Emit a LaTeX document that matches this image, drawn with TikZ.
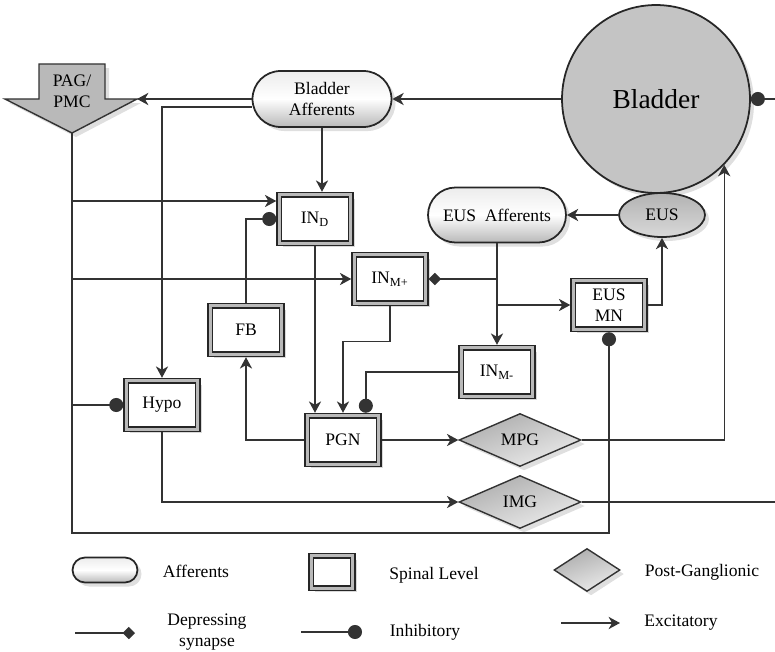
\documentclass[tikz,border=0pt]{standalone}
\usepackage{fontspec}
\setmainfont{Liberation Serif}
\usetikzlibrary{arrows.meta,shapes.geometric,shapes.misc,shadows}

\begin{document}
\begin{tikzpicture}[x=0.02cm,y=-0.02cm,font=\fontsize{10}{12}\selectfont,line width=0.75pt,draw=black!80,
  exc/.style={-{Stealth[length=6.5pt,width=7pt,inset=2pt]}},
  inh/.style={-{Circle[length=8pt]}},
  dep/.style={-{Turned Square[length=7pt,width=7pt]}},
  aff/.style={rounded rectangle,draw=black!85,line width=1pt,top color=gray!15,bottom color=gray!55,middle color=white,drop shadow={opacity=0.25},align=center,inner sep=0pt},
  spinal/.style={draw=black!85,line width=0.8pt,double=gray!55,double distance=1.8pt,fill=white,drop shadow={opacity=0.3},minimum width=1.43cm,minimum height=0.97cm,inner sep=0pt,outer sep=1.7pt,align=center},
  gang/.style={diamond,draw=black!80,line width=0.8pt,top color=gray!65,bottom color=gray!15,shading angle=20,minimum width=2.44cm,minimum height=1.06cm,inner sep=0pt,drop shadow={opacity=0.25}}]
\useasboundingbox (0,0) rectangle (775,652);
\node[circle,draw=black!85,line width=1pt,fill=gray!46,minimum size=3.76cm,drop shadow={opacity=0.25},font=\fontsize{15.6}{18}\selectfont] (bladder) at (656,99) {Bladder};
\node[aff,minimum width=2.78cm,minimum height=1.12cm] (baff) at (322,99) {Bladder\\Afferents};
\node[ellipse,draw=black!85,line width=1pt,top color=gray!60,bottom color=gray!30,minimum width=1.72cm,minimum height=0.88cm,inner sep=0pt,drop shadow={opacity=0.25}] (eus) at (662,215) {EUS};
\node[aff,minimum width=2.76cm,minimum height=1.1cm] (eusaff) at (497,215) {EUS\ \ Afferents};
\node[spinal] (ind) at (315,219) {IN\textsubscript{D}};
\node[spinal] (inmp) at (390,279) {IN\textsubscript{M+}};
\node[spinal] (eusmn) at (609,305) {EUS\\MN};
\node[spinal] (fb) at (246,330) {FB};
\node[spinal] (inmm) at (497,372) {IN\textsubscript{M-}};
\node[spinal] (hypo) at (162,405) {Hypo};
\node[spinal] (pgn) at (343,440) {PGN};
\node[gang] (mpg) at (520,440) {MPG};
\node[gang] (img) at (520,502) {IMG};
\coordinate (pagtip) at (72,133);
\coordinate (pagR) at (137,99);
\filldraw[draw=black!80,line width=0.8pt,fill=gray!55,drop shadow={opacity=0.25}] (39,64) -- (105,64) -- (105,99) -- (pagR) -- (pagtip) -- (5,99) -- (39,99) -- cycle;
\node[align=center] (pag) at (72,91) {PAG/\\PMC};
\coordinate (bot) at (72,533);
\coordinate (rightin) at (775,99);
\coordinate (rightout) at (775,502);
\draw[exc] (bladder.west) -- (baff.east);
\draw[exc] (baff.west) -- (pagR);
\draw[exc] ([yshift=-4.5pt]baff.west) -| (hypo.north);
\draw[exc] (baff.south) -- (baff.south |- ind.north);
\draw[inh] (pagtip) |- (bot) -| (eusmn.south);
\draw[exc] (pagtip |- 0,201) -- (ind.west |- 0,201);
\draw[exc] (pagtip |- inmp.west) -- (inmp.west);
\draw[inh] (pagtip |- hypo.west) -- (hypo.west);
\draw[inh] (fb.north) |- (ind.west);
\draw[exc] (ind.south) -- (ind.south |- pgn.north);
\draw[exc] (inmp.south) -- ++(0,35) -| (pgn.north);
\draw[inh] (inmm.west) -| ([xshift=13pt]pgn.north);
\draw[exc] (pgn.west) -| (fb.south);
\draw[exc] (pgn.east) -- (mpg.west);
\draw[exc] (mpg.east) -| (bladder.-44);
\draw[exc] (eusaff.south) -- (inmm.north);
\draw[dep] (eusaff.south |- inmp.east) -- (inmp.east);
\draw[exc] (eusaff.south |- eusmn.west) -- (eusmn.west);
\draw[exc] (eusmn.east) -| (eus.south);
\draw[exc] (eus.west) -- (eusaff.east);
\draw[inh] (rightin) -- (bladder.east);
\draw[exc] (hypo.south) |- (img.west);
\draw (img.east) -- (rightout);
\node[aff,minimum width=1.3cm,minimum height=0.5cm] (legaff) at (105,570) {};
\node (legafftxt) at (196,571) {Afferents};
\node[spinal,minimum width=0.83cm,minimum height=0.65cm] (legsp) at (332,572) {};
\node (legsptxt) at (434,575) {Spinal Level};
\node[gang,minimum width=1.32cm,minimum height=0.86cm] (leggang) at (587,570) {};
\node (leggangtxt) at (702,572) {Post-Ganglionic};
\coordinate (legdepa) at (75,633);
\coordinate (legdepb) at (135,633);
\draw[dep] (legdepa) -- (legdepb);
\node[align=center] (legdeptxt) at (207,632) {Depressing\\synapse};
\coordinate (leginha) at (301,632);
\coordinate (leginhb) at (362,632);
\draw[inh] (leginha) -- (leginhb);
\node (leginhtxt) at (425,632) {Inhibitory};
\coordinate (legexca) at (561,623);
\coordinate (legexcb) at (620,623);
\draw[exc] (legexca) -- (legexcb);
\node (legexctxt) at (681,623) {Excitatory};
\end{tikzpicture}
\end{document}
